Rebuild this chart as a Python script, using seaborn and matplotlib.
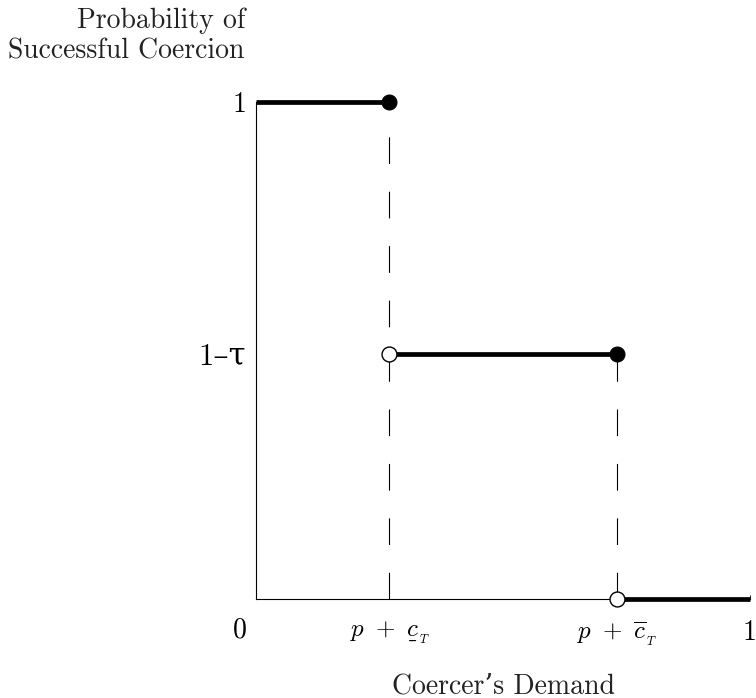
#!/usr/bin/env python3

import matplotlib

matplotlib.use("Agg")
import matplotlib.pyplot as plt
import numpy as np
import pandas as pd
import seaborn as sns
from matplotlib.mathtext import MathTextParser

# step function: probability of successful coercion vs demand
x_breaks = [0.0, 0.27, 0.73, 1.0]
levels = [1.0, 0.493, 0.0]
closed_x = [0.27, 0.73]
closed_y = [1.0, 0.493]
open_x = [0.27, 0.73]
open_y = [0.493, 0.0]

# is \underline available in mathtext?
try:
    MathTextParser("agg").parse(r"$\underline{c}$", dpi=100)
    c_low = r"\underline{c}"
except Exception:
    c_low = r"\underset{\_}{c}"

x_ticks = [0.27, 0.73, 1.0]
x_labels = [rf"$p\ +\ {c_low}_{{{{}}_T}}$", r"$p\ +\ \overline{c}_{{}_T}$", "1"]
y_ticks = [1.0, 0.493]
y_labels = ["1", "1\u2013\u03c4"]

sns.set_theme(style="ticks")
plt.rcParams["font.family"] = ["cmr10", "DejaVu Serif"]
plt.rcParams["mathtext.fontset"] = "cm"
plt.rcParams["axes.unicode_minus"] = False

fig = plt.figure(figsize=(7.56, 6.98), dpi=100)
ax = fig.add_axes([256 / 756, 1 - 599 / 698, 494 / 756, 497 / 698])

# dashed drop lines
for xv, yv in zip(closed_x, closed_y):
    ax.plot([xv, xv], [0, yv], color="black", lw=0.8, dashes=(24, 25), zorder=1)

# horizontal steps
for i, lvl in enumerate(levels):
    seg = pd.DataFrame({"x": [x_breaks[i], x_breaks[i + 1]], "y": [lvl, lvl]})
    sns.lineplot(data=seg, x="x", y="y", estimator=None, sort=False,
                 color="black", linewidth=3.4, ax=ax, zorder=2, clip_on=False,
                 solid_capstyle="butt")

sns.scatterplot(x=closed_x, y=closed_y, color="black", s=115, edgecolor="black",
                linewidth=0.8, zorder=4, clip_on=False, ax=ax)
sns.scatterplot(x=open_x, y=open_y, color="white", s=115, edgecolor="black",
                linewidth=1.0, zorder=4, clip_on=False, ax=ax)

ax.set_xlim(0, 1.0)
ax.set_ylim(0, 1.0)
sns.despine(ax=ax)
for sp in ["left", "bottom"]:
    ax.spines[sp].set_linewidth(0.8)
    ax.spines[sp].set_color("black")

ax.set_xticks(x_ticks)
ax.set_xticklabels(x_labels, fontsize=18)
ax.tick_params(axis="x", direction="in", length=3, width=0.6, pad=15, colors="black")
ax.xaxis.get_major_ticks()[2].label1.set_fontsize(20)
ax.set_yticks(y_ticks)
ax.set_yticklabels(y_labels)
ax.tick_params(axis="y", length=0, colors="black")
yt = ax.yaxis.get_major_ticks()
yt[0].label1.set_fontsize(20)
yt[0].set_pad(7)
yt[1].label1.set_fontsize(22)
yt[1].set_pad(7)
ax.set_xlabel("")
ax.set_ylabel("")

ax.text(-0.033, -0.063, "0", transform=ax.transAxes, ha="center", va="center",
        fontsize=20, color="black")

fig.text(245 / 756, 1 - 36 / 698, "Probability of\nSuccessful Coercion",
         ha="right", va="center", ma="right", fontsize=20, color="#222222",
         linespacing=1.2)
fig.text(503 / 756, 1 - 686 / 698, "Coercer\u2019s Demand", ha="center",
         va="center", fontsize=20, color="#222222")

plt.savefig("out.png", dpi=100)
